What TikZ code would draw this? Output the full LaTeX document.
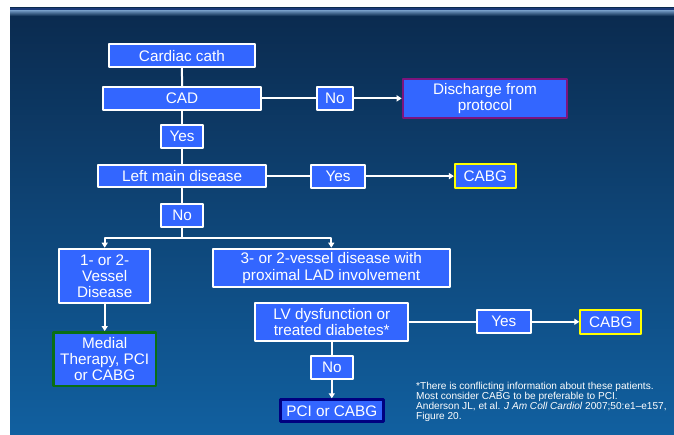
\documentclass[tikz,border=0pt]{standalone}
\usepackage{fontspec}
\setsansfont{Liberation Sans}
\usetikzlibrary{arrows.meta}
\definecolor{Boxfill}{RGB}{51,102,255}
\definecolor{Bgtop}{RGB}{11,42,78}
\definecolor{Bgbot}{RGB}{17,96,160}
\definecolor{Bgband}{RGB}{28,58,120}
\definecolor{Bgstripe}{RGB}{112,150,192}
\definecolor{Pline}{RGB}{125,20,125}
\definecolor{Yline}{RGB}{255,255,0}
\definecolor{Gline}{RGB}{10,110,20}
\definecolor{Nline}{RGB}{0,0,128}

\begin{document}
\begin{tikzpicture}[x=1pt,y=-1pt,line cap=round,line join=round,
  box/.style={rectangle,draw=white,line width=2pt,fill=Boxfill,inner sep=1pt,align=center,text=white,font=\sffamily\fontsize{15.3}{16.2}\selectfont},
  link/.style={draw=white,line width=2pt},
  arrowlink/.style={link,-{Triangle[length=5pt,width=6pt]}}]
\path[use as bounding box,fill=white] (0,0) rectangle (674,435);
% slide background
\shade[top color=Bgtop,bottom color=Bgbot] (10,8) rectangle (674,435);
\fill[Bgband] (10,8) rectangle (674,10.5);
\shade[top color=Bgstripe,bottom color=Bgtop] (10,10.5) rectangle (674,16);

\node[box,minimum width=146.3,minimum height=23] (cath) at (181.9,55.8) {Cardiac cath};
\node[box,minimum width=158.3,minimum height=23.3] (cad) at (182.1,98.4) {CAD};
\node[box,minimum width=36.3,minimum height=23] (no1) at (334.9,98.4) {No};
\node[box,draw=Pline,minimum width=164.6,minimum height=38.7] (discharge) at (485,98.4) {Discharge from\\protocol};
\node[box,minimum width=42.6,minimum height=23.3] (yes1) at (182.1,136.7) {Yes};
\node[box,minimum width=167.4,minimum height=22.8] (leftmain) at (182.1,176.1) {Left main disease};
\node[box,minimum width=54,minimum height=23] (yes2) at (338,176.1) {Yes};
\node[box,draw=Yline,minimum width=60.7,minimum height=23.3] (cabga) at (485.3,176.1) {CABG};
\node[box,minimum width=42.3,minimum height=23] (no2) at (182.1,215.8) {No};
\coordinate (split) at (182.1,237.7);
\node[box,minimum width=90.7,minimum height=54.6] (onetwo) at (104.7,276) {1- or 2-\\Vessel\\Disease};
\node[box,minimum width=237.3,minimum height=38.6] (threetwo) at (331.3,268) {3- or 2-vessel disease with\\proximal LAD involvement};
\node[box,draw=Gline,line width=2.5pt,minimum width=102.5,minimum height=53.8] (medial) at (104.7,359.2) {Medial\\Therapy, PCI\\or CABG};
\node[box,minimum width=153,minimum height=38] (lvdys) at (331.8,321.8) {LV dysfunction or\\treated diabetes*};
\node[box,minimum width=54.3,minimum height=23] (yes3) at (503.8,321.8) {Yes};
\node[box,draw=Yline,minimum width=61,minimum height=23.7] (cabgb) at (610.8,321.8) {CABG};
\node[box,minimum width=42.3,minimum height=23] (no3) at (331.8,367.5) {No};
\node[box,draw=Nline,line width=3pt,minimum width=103,minimum height=22] (pcicabg) at (331.8,410.8) {PCI or CABG};

\draw[link] (cath) -- (cad);
\draw[link] (cad) -- (no1);
\draw[arrowlink] (no1) -- (discharge);
\draw[link] (cad) -- (yes1);
\draw[link] (yes1) -- (leftmain);
\draw[link] (leftmain) -- (yes2);
\draw[arrowlink] (yes2) -- (cabga);
\draw[link] (leftmain) -- (no2);
\draw[link] (no2) -- (split);
\draw[arrowlink] (split) -| (onetwo);
\draw[arrowlink] (split) -| (threetwo);
\draw[arrowlink] (onetwo) -- (medial);
\draw[link] (lvdys) -- (yes3);
\draw[arrowlink] (yes3) -- (cabgb);
\draw[link] (lvdys) -- (no3);
\draw[arrowlink] (no3) -- (pcicabg);

\node[anchor=north west,inner sep=0pt,align=left,text=white,font=\sffamily\fontsize{10.1}{10}\selectfont] (note) at (416,381.7) {*There is conflicting information about these patients.\\Most consider CABG to be preferable to PCI.\\Anderson JL, et al. \textit{J Am Coll Cardiol} 2007;50:e1--e157,\\Figure 20.};
\end{tikzpicture}
\end{document}
